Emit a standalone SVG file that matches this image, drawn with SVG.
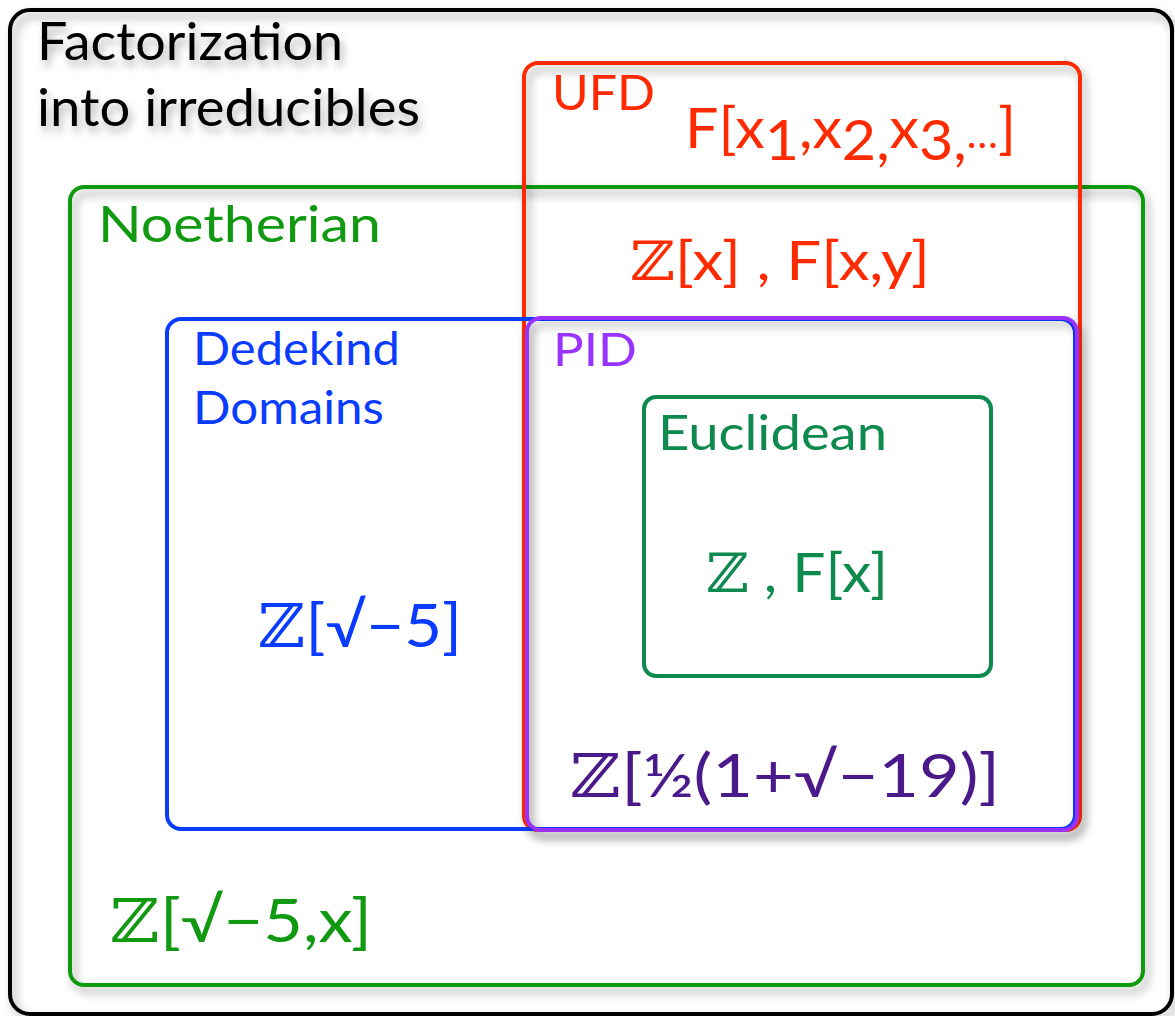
<svg xmlns="http://www.w3.org/2000/svg" width="1175" height="1016" viewBox="0 0 1175 1016">
<defs>
<filter id="sh" x="-10%" y="-10%" width="130%" height="130%">
<feDropShadow dx="4" dy="6" stdDeviation="5" flood-color="#000" flood-opacity="0.35"/>
</filter>
<filter id="tsh" x="-10%" y="-20%" width="130%" height="160%">
<feDropShadow dx="3" dy="6" stdDeviation="4" flood-color="#000" flood-opacity="0.3"/>
</filter>
</defs>
<style>
.box{fill:none;stroke-width:4}
text{font-family:Lato,"Open Sans","DejaVu Sans",sans-serif}
.zz{font-family:"DejaVu Serif","DejaVu Sans",serif;font-weight:normal}
</style>
<rect width="1175" height="1016" fill="#fff"/>
<g id="outer">
<rect class="box" x="10" y="10" width="1162" height="1004" rx="20" stroke="#000" fill="#fff" filter="url(#sh)"/>
<text x="37" y="60" font-size="52" fill="#000" filter="url(#tsh)" textLength="306" lengthAdjust="spacingAndGlyphs">Factorization</text>
<text x="37" y="126" font-size="52" fill="#000" filter="url(#tsh)" textLength="383" lengthAdjust="spacingAndGlyphs">into irreducibles</text>
</g>
<g id="noetherian">
<rect class="box" x="70" y="187" width="1073" height="798" rx="14" stroke="#119a11" filter="url(#sh)"/>
<text x="98" y="242" font-size="51" fill="#119a11" textLength="283" lengthAdjust="spacingAndGlyphs">Noetherian</text>
<text x="110" y="942" font-size="60" fill="#119a11" textLength="262" lengthAdjust="spacingAndGlyphs"><tspan class="zz">ℤ</tspan>[√−5,x]</text>
</g>
<g id="ufd">
<rect class="box" x="524" y="63" width="556" height="767" rx="14" stroke="#ff2a00" filter="url(#sh)"/>
<text x="552" y="110" font-size="48" fill="#ff2a00" textLength="103" lengthAdjust="spacingAndGlyphs">UFD</text>
<text x="685" y="148" font-size="57" fill="#ff2a00" textLength="331" lengthAdjust="spacingAndGlyphs">F[x<tspan dy="12">1</tspan><tspan dy="-12">,x</tspan><tspan dy="12">2,</tspan><tspan dy="-12">x</tspan><tspan dy="12">3,</tspan><tspan dy="-12" font-size="40">…</tspan>]</text>
<text x="630" y="280" font-size="54" fill="#ff2a00" textLength="300" lengthAdjust="spacingAndGlyphs"><tspan class="zz">ℤ</tspan>[x] , F[x,y]</text>
</g>
<g id="dedekind">
<rect class="box" x="167" y="319" width="908" height="510" rx="14" stroke="#0a3cff"/>
<text x="193" y="365" font-size="46" fill="#0a3cff" textLength="207" lengthAdjust="spacingAndGlyphs">Dedekind</text>
<text x="193" y="424" font-size="46" fill="#0a3cff" textLength="191" lengthAdjust="spacingAndGlyphs">Domains</text>
<text x="258" y="647" font-size="60" fill="#0a3cff" textLength="204" lengthAdjust="spacingAndGlyphs"><tspan class="zz">ℤ</tspan>[√−5]</text>
</g>
<g id="pid">
<rect class="box" x="527" y="318" width="550" height="512" rx="14" stroke="#9933ff" filter="url(#sh)"/>
<text x="553" y="366" font-size="46" fill="#9933ff" textLength="84" lengthAdjust="spacingAndGlyphs">PID</text>
<text x="570" y="797" font-size="60" fill="#4a1a8a" textLength="430" lengthAdjust="spacingAndGlyphs"><tspan class="zz">ℤ</tspan>[½(1+√−19)]</text>
</g>
<g id="euclidean">
<rect class="box" x="644" y="397" width="347" height="279" rx="12" stroke="#0e8a4e"/>
<text x="658" y="450" font-size="48" fill="#0e8a4e" textLength="229" lengthAdjust="spacingAndGlyphs">Euclidean</text>
<text x="706" y="592" font-size="54" fill="#0e8a4e" textLength="182" lengthAdjust="spacingAndGlyphs"><tspan class="zz">ℤ</tspan> , F[x]</text>
</g>
<g id="connectors"/>
</svg>
